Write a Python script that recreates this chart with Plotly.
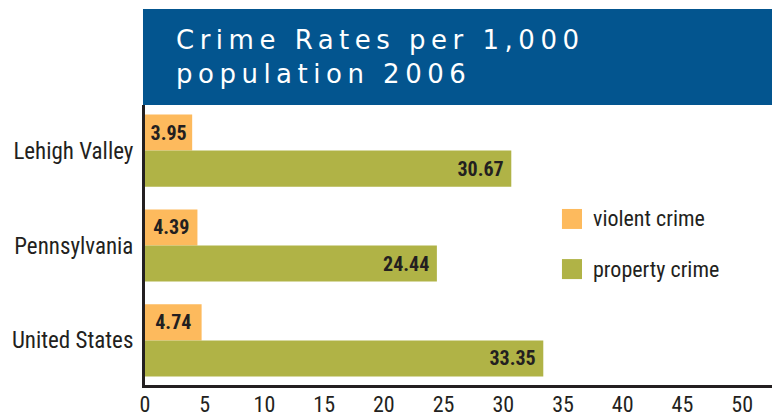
import plotly.graph_objects as go

categories = ["Lehigh Valley", "Pennsylvania", "United States"]
violent = [3.95, 4.39, 4.74]
property_crime = [30.67, 24.44, 33.35]
x_ticks = [0, 5, 10, 15, 20, 25, 30, 35, 40, 45, 50]
title_lines = ["Crime Rates per 1,000", "population 2006"]
legend_names = ["violent crime", "property crime"]

FONT = "Roboto Condensed, Roboto, sans-serif"
DARK = "#231F20"
ORANGE = "#FDBA5D"
OLIVE = "#B0B346"
BLUE = "#03558F"
colors = [ORANGE, OLIVE]

fig = go.Figure()
fig.add_trace(go.Bar(
    y=categories, x=violent, orientation="h", name=legend_names[0],
    marker=dict(color=ORANGE, line=dict(width=0)),
    texttemplate="%{x:.2f}", textposition="inside",
    insidetextanchor="middle", textangle=0,
    textfont=dict(family=FONT, size=20, color=DARK, weight="bold"),
    showlegend=False,
))
fig.add_trace(go.Bar(
    y=categories, x=property_crime, orientation="h", name=legend_names[1],
    marker=dict(color=OLIVE, line=dict(width=0)),
    texttemplate="%{x:.2f}\u00a0", textposition="inside",
    insidetextanchor="end", textangle=0,
    textfont=dict(family=FONT, size=20, color=DARK, weight="bold"),
    showlegend=False,
))

# title box
fig.add_shape(type="rect", xref="paper", yref="paper",
              x0=-0.0032, x1=1.0, y0=1.0, y1=1.343,
              fillcolor=BLUE, line=dict(width=0), layer="below")
title_html = "<br>".join(
    f"<span style='letter-spacing:5.5px'>{t}</span>" for t in title_lines)
fig.add_annotation(
    xref="paper", yref="paper", x=0.0455, y=1.172, xanchor="left", yanchor="middle",
    text=title_html, showarrow=False, align="left",
    font=dict(family="DejaVu Sans, sans-serif", size=26, color="white"),
)

# legend (swatches + labels)
leg_y = [0.593, 0.414]
for name, col, yc in zip(legend_names, colors, leg_y):
    fig.add_shape(type="rect", xref="paper", yref="paper",
                  x0=0.665, x1=0.697, y0=yc - 0.0357, y1=yc + 0.0357,
                  fillcolor=col, line=dict(width=0))
    fig.add_annotation(xref="paper", yref="paper", x=0.711, y=yc,
                       xanchor="left", yanchor="middle", text=name,
                       showarrow=False,
                       font=dict(family=FONT, size=22, color=DARK))

fig.update_layout(
    width=772, height=416,
    margin=dict(l=145, r=0, t=105, b=31),
    paper_bgcolor="white", plot_bgcolor="white",
    barmode="group", bargap=0.24, bargroupgap=0,
    showlegend=False,
    xaxis=dict(range=[0, 52.5], tickvals=x_ticks, ticks="", showgrid=False,
               zeroline=False, showline=True, linecolor=DARK, linewidth=3,
               ticklabelstandoff=-2, automargin=False,
               tickfont=dict(family=FONT, size=22, color=DARK)),
    yaxis=dict(type="category", categoryorder="array", categoryarray=categories,
               range=[2.47, -0.48], ticks="", showgrid=False, zeroline=False,
               showline=True, linecolor=DARK, linewidth=3, ticklabelstandoff=4,
               automargin=False,
               tickfont=dict(family=FONT, size=23, color=DARK)),
)

fig.write_html("out.html", config={"displayModeBar": False},
               post_script="document.body.style.margin='0';"
                           "document.body.style.overflow='hidden';")
